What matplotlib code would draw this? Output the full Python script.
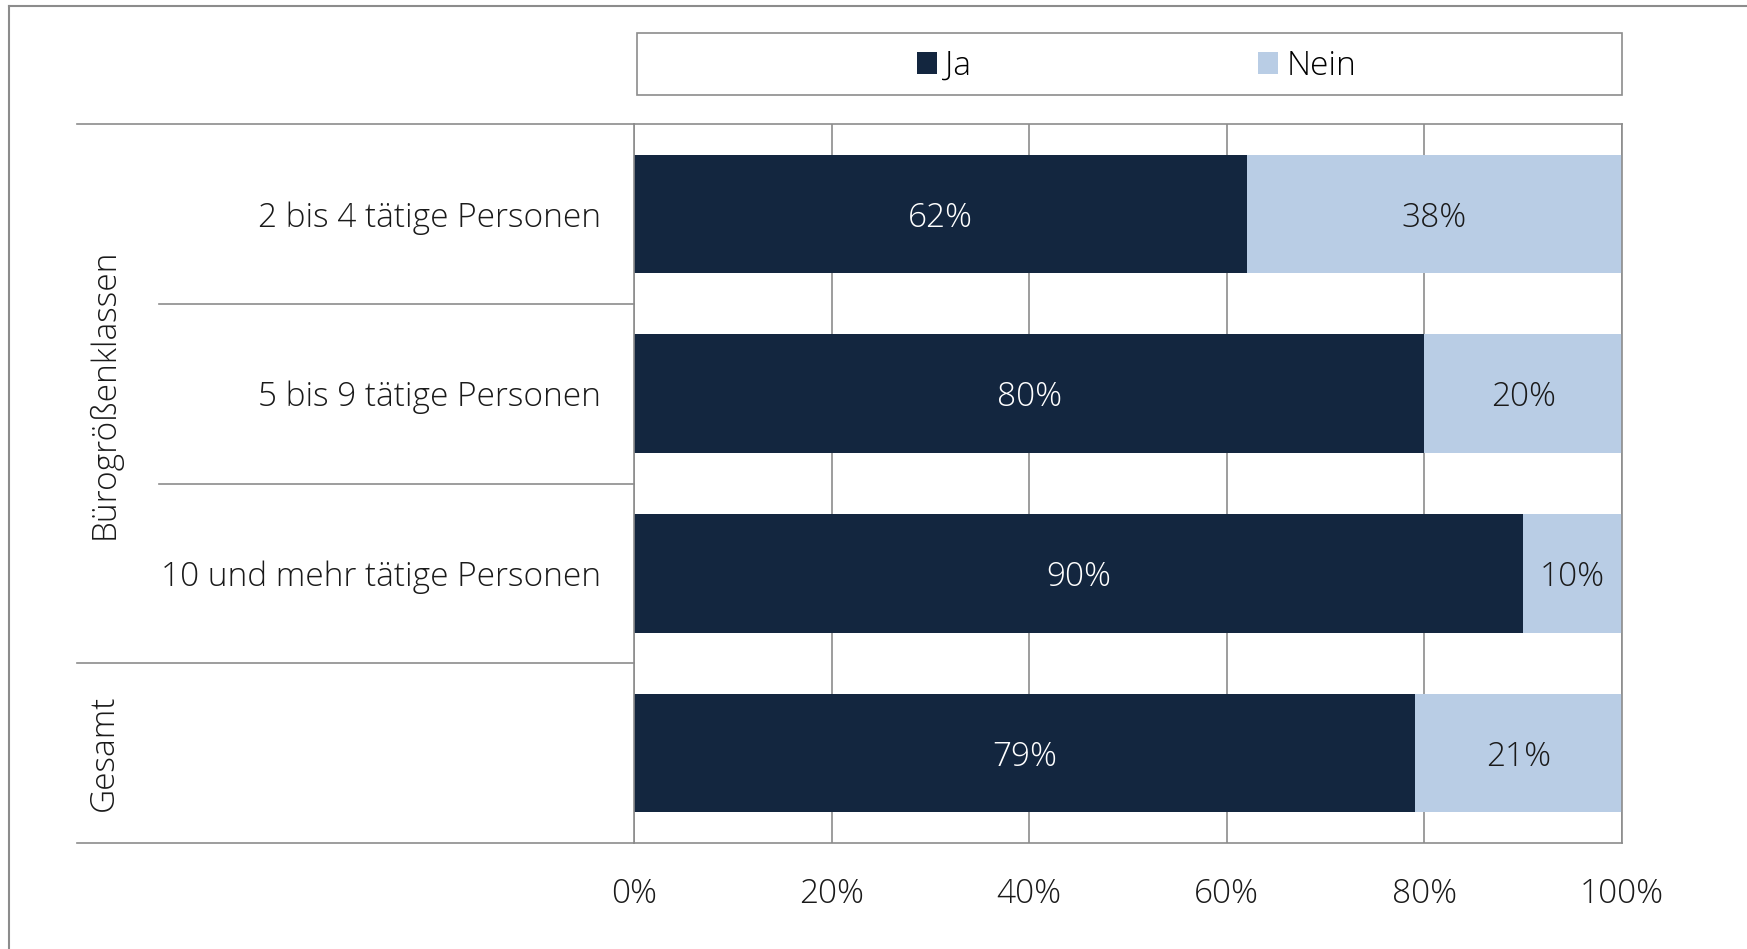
import matplotlib
matplotlib.use("Agg")
import matplotlib.pyplot as plt
from matplotlib.lines import Line2D
from matplotlib.patches import Rectangle

plt.rcParams['font.family'] = ['Open Sans', 'DejaVu Sans']
plt.rcParams['font.weight'] = 'light'

# Anteile je Bürogrößenklasse (in %)
kategorien = ["2 bis 4 tätige Personen", "5 bis 9 tätige Personen",
              "10 und mehr tätige Personen", ""]
ja = [62, 80, 90, 79]
nein = [38, 20, 10, 21]
serien = ["Ja", "Nein"]
x_ticks = [0, 20, 40, 60, 80, 100]
x_labels = ["0%", "20%", "40%", "60%", "80%", "100%"]

col_ja = "#13263f"
col_nein = "#b9cde5"
grau = "#8c8c8c"
txt = "#1a1a1a"
fs = 24
W, H = 1747, 949

fig = plt.figure(figsize=(W / 100, H / 100), dpi=100)
ax = fig.add_axes([634 / W, 1 - 843 / H, (1622 - 634) / W, (843 - 124) / H])

pos = range(len(kategorien))
b1 = ax.barh(pos, ja, height=0.66, color=col_ja, label=serien[0], zorder=2)
b2 = ax.barh(pos, nein, left=ja, height=0.66, color=col_nein, label=serien[1], zorder=2)

# Werte in die Segmente schreiben
for i in pos:
    ax.text(ja[i] / 2, i, f"{ja[i]}%", ha="center", va="center_baseline",
            color="white", fontsize=fs, zorder=3)
    ax.text(ja[i] + nein[i] / 2, i, f"{nein[i]}%", ha="center", va="center_baseline",
            color=txt, fontsize=fs, zorder=3)

ax.set_xlim(0, 100)
ax.set_ylim(3.5, -0.5)
ax.set_xticks(x_ticks)
ax.set_xticklabels(x_labels, fontsize=fs, color=txt)
ax.set_yticks(list(pos))
ax.set_yticklabels(kategorien, fontsize=fs, color=txt)
ax.tick_params(axis="x", length=0, pad=25)
ax.tick_params(axis="y", length=0, pad=24)
ax.grid(axis="x", color=grau, linewidth=1.2, zorder=0)
ax.set_axisbelow(True)
for s in ax.spines.values():
    s.set_color(grau)
    s.set_linewidth(1.2)

# Trennlinien im Beschriftungsbereich
ytr = ax.get_yaxis_transform()
for y, x0 in [(-0.5, -0.564), (0.5, -0.481), (1.5, -0.481), (2.5, -0.564), (3.5, -0.564)]:
    ax.add_line(Line2D([x0, 0], [y, y], transform=ytr, color=grau,
                       linewidth=1.2, clip_on=False))

ax.text(-0.536, 1.0, "Bürogrößenklassen", transform=ytr, rotation=90,
        ha="center", va="center", fontsize=fs, color=txt)
ax.text(-0.536, 3.0, "Gesamt", transform=ytr, rotation=90,
        ha="center", va="center", fontsize=fs, color=txt)

# Legende mit Rahmen oberhalb des Diagramms
fig.add_artist(Rectangle((637 / W, 1 - 95 / H), (1622 - 637) / W, (95 - 33) / H,
                         transform=fig.transFigure, fill=False,
                         edgecolor=grau, linewidth=1.2))
fig.legend(handles=[b1, b2], loc="center left",
           bbox_to_anchor=(917 / W, 1 - 66 / H), ncol=2, frameon=False,
           fontsize=fs, handlelength=0.6, handleheight=0.6,
           handletextpad=0.25, columnspacing=8.6, borderpad=0, borderaxespad=0)

# äußerer Rahmen
fig.add_artist(Line2D([9 / W, 9 / W], [0, 1 - 6 / H], color=grau, linewidth=1.5))
fig.add_artist(Line2D([9 / W, 1], [1 - 6 / H, 1 - 6 / H], color=grau, linewidth=1.5))

fig.savefig("out.png", dpi=100, facecolor="white")
